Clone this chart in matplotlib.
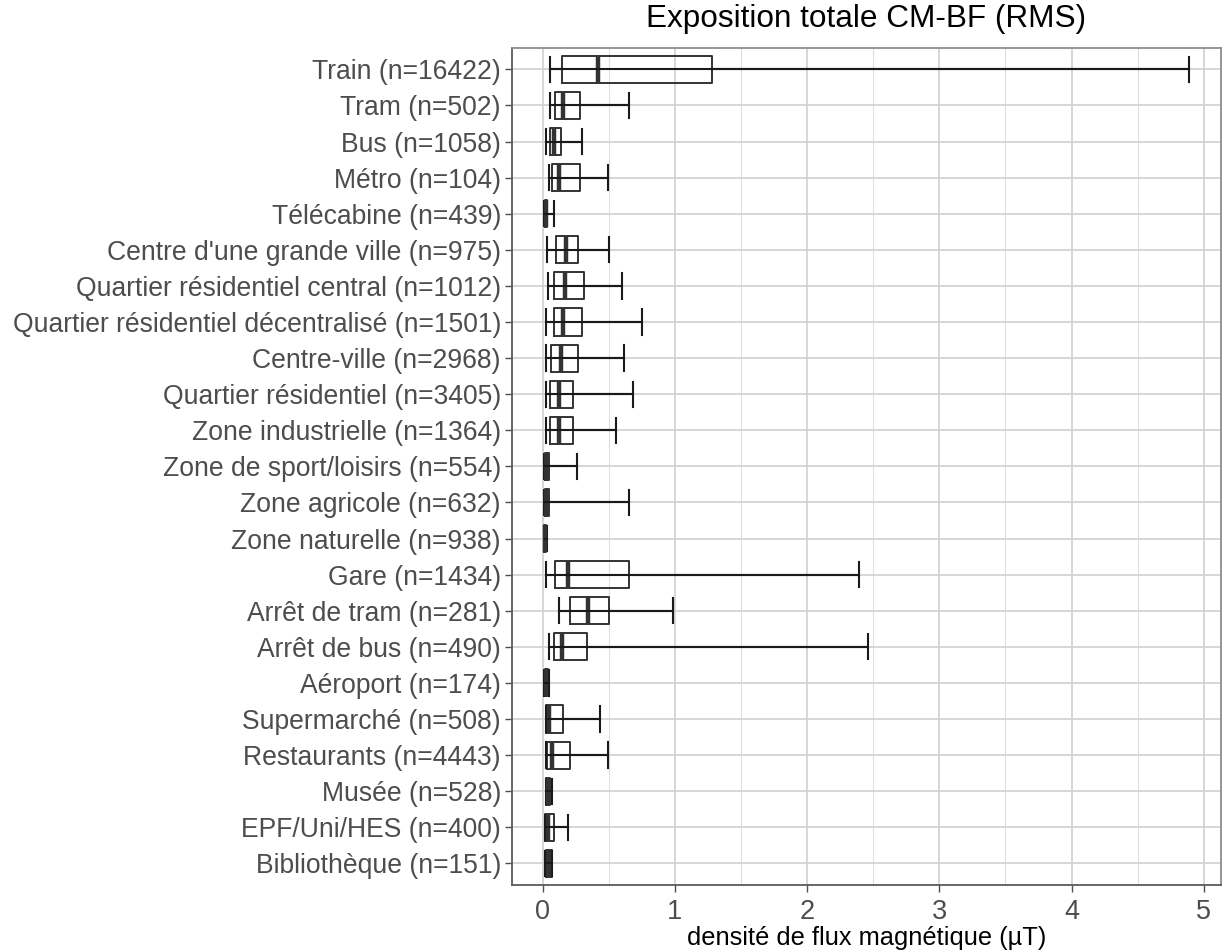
import matplotlib
matplotlib.use("Agg")
import matplotlib.pyplot as plt
import numpy as np

# categories, top to bottom
labels = ["Train (n=16422)", "Tram (n=502)", "Bus (n=1058)", "Métro (n=104)",
          "Télécabine (n=439)", "Centre d'une grande ville (n=975)",
          "Quartier résidentiel central (n=1012)",
          "Quartier résidentiel décentralisé (n=1501)", "Centre-ville (n=2968)",
          "Quartier résidentiel (n=3405)", "Zone industrielle (n=1364)",
          "Zone de sport/loisirs (n=554)", "Zone agricole (n=632)",
          "Zone naturelle (n=938)", "Gare (n=1434)", "Arrêt de tram (n=281)",
          "Arrêt de bus (n=490)", "Aéroport (n=174)", "Supermarché (n=508)",
          "Restaurants (n=4443)", "Musée (n=528)", "EPF/Uni/HES (n=400)",
          "Bibliothèque (n=151)"]

# box statistics (µT)
whis_lo = [0.055, 0.055, 0.022, 0.045, 0.012, 0.032, 0.037, 0.027, 0.025, 0.022, 0.025, 0.012,
           0.012, 0.008, 0.027, 0.120, 0.047, 0.012, 0.022, 0.022, 0.022, 0.015, 0.020]
q1 = [0.148, 0.095, 0.052, 0.072, 0.015, 0.102, 0.082, 0.082, 0.060, 0.057, 0.055, 0.017,
      0.017, 0.012, 0.090, 0.203, 0.082, 0.017, 0.025, 0.032, 0.027, 0.020, 0.022]
med = [0.420, 0.155, 0.082, 0.120, 0.022, 0.178, 0.170, 0.157, 0.135, 0.120, 0.120, 0.025,
       0.025, 0.018, 0.195, 0.340, 0.145, 0.025, 0.045, 0.070, 0.040, 0.040, 0.045]
q3 = [1.280, 0.285, 0.135, 0.285, 0.030, 0.270, 0.310, 0.300, 0.266, 0.228, 0.228, 0.045,
      0.045, 0.025, 0.656, 0.505, 0.334, 0.040, 0.150, 0.203, 0.055, 0.087, 0.068]
whis_hi = [4.890, 0.650, 0.295, 0.497, 0.082, 0.505, 0.600, 0.752, 0.616, 0.680, 0.555, 0.258,
           0.656, 0.032, 2.390, 0.985, 2.460, 0.048, 0.432, 0.497, 0.070, 0.193, 0.070]

n = len(labels)
pos = np.arange(n, 0, -1)

plt.rcParams['font.family'] = ['Liberation Sans', 'DejaVu Sans']

fig = plt.figure(figsize=(12.22, 9.51), dpi=100)
ax = fig.add_axes([0.419, 0.0694, 0.5802, 0.8804])

stats = []
for i in range(n):
    stats.append(dict(whislo=whis_lo[i], q1=q1[i], med=med[i], q3=q3[i],
                      whishi=whis_hi[i], fliers=[]))

# whisker line running through the box (like stat_boxplot errorbar)
ax.hlines(pos, whis_lo, whis_hi, color='#1a1a1a', lw=1.5, zorder=3)

ax.bxp(stats, positions=pos, vert=False, widths=0.75, capwidths=0.7,
       showfliers=False, manage_ticks=False,
       boxprops=dict(color='#333333', lw=1.4),
       medianprops=dict(color='#333333', lw=3.2),
       whiskerprops=dict(color='#1a1a1a', lw=1.5),
       capprops=dict(color='#1a1a1a', lw=1.5))

ax.set_xlim(-0.232, 5.13)
ax.set_ylim(0.4, n + 0.6)
ax.set_yticks(pos)
ax.set_yticklabels(labels)
ax.set_xticks([0, 1, 2, 3, 4, 5])
ax.set_xticks(np.arange(0.5, 5.0, 1.0), minor=True)

ax.grid(True, which='major', color='#d0d0d0', lw=1.2, zorder=0)
ax.grid(True, which='minor', axis='x', color='#dedede', lw=0.8, zorder=0)
ax.set_axisbelow(True)

ax.tick_params(axis='y', which='major', labelsize=19.1, labelcolor='#4d4d4d',
               color='#4d4d4d', length=5, width=1, pad=3)
ax.tick_params(axis='x', which='major', labelsize=19.5, labelcolor='#4d4d4d',
               color='#4d4d4d', length=5, width=1, pad=5)
ax.tick_params(axis='x', which='minor', length=0)

for s in ['left', 'bottom']:
    ax.spines[s].set_color('#5a5a5a')
    ax.spines[s].set_linewidth(1.3)
for s in ['top', 'right']:
    ax.spines[s].set_color('#8c8c8c')
    ax.spines[s].set_linewidth(1.3)

ax.set_xlabel('densité de flux magnétique (µT)', fontsize=18.3, color='black', labelpad=1)
ax.set_title('Exposition totale CM-BF (RMS)', fontsize=22.7, color='black', pad=15)

fig.savefig('out.png', dpi=100)
